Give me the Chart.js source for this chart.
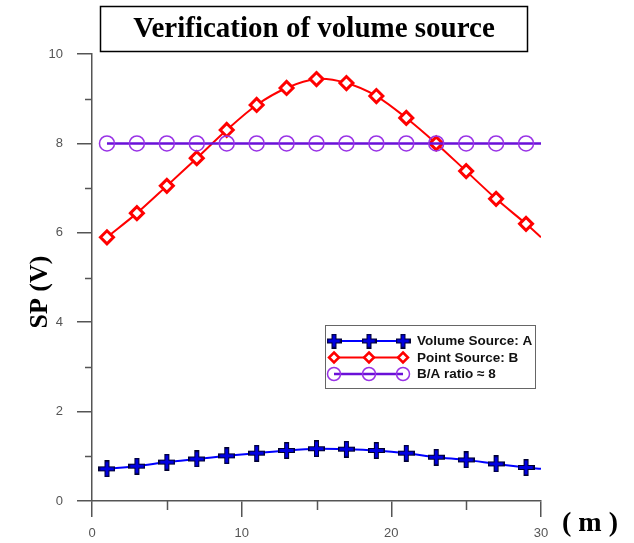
<!DOCTYPE html>
<html>
<head>
<meta charset="utf-8">
<script src="https://cdn.jsdelivr.net/npm/chart.js@4/dist/chart.umd.min.js"></script>
<style>
  body { margin: 0; background: #fff; }
  #wrap { width: 634px; height: 543px; position: relative; }
</style>
</head>
<body>
<div id="wrap"><canvas id="spChart"></canvas></div>
<script>
// distance along the profile (m); the last one only continues the curve
const positions = [1, 3, 5, 7, 9, 11, 13, 15, 17, 19, 21, 23, 25, 27, 29, 30];
const volumeA = [0.72, 0.78, 0.87, 0.94, 1.01, 1.07, 1.13, 1.17, 1.16, 1.13, 1.07, 0.98, 0.92, 0.83, 0.75, 0.72];
const pointB = [5.9, 6.44, 7.05, 7.67, 8.3, 8.86, 9.24, 9.44, 9.35, 9.06, 8.57, 8.0, 7.38, 6.76, 6.2, 5.9];
const ratioBA = [8, 8, 8, 8, 8, 8, 8, 8, 8, 8, 8, 8, 8, 8, 8, 8];
const legendLabels = ["Volume Source: A", "Point Source: B", "B/A ratio \u2248 8"];
const yMinorTicks = [1, 3, 5, 7, 9];
const xMinorTicks = [5, 15, 25];

const AXIS = "#555";

// "+" marker: blue bars with a dark outline
function makeCross(size, thick) {
  const c = document.createElement("canvas");
  c.width = size; c.height = size;
  const g = c.getContext("2d");
  const m = size / 2;
  g.lineCap = "square";
  g.strokeStyle = "#000030";
  g.lineWidth = thick + 2;
  g.beginPath();
  g.moveTo(m, 2); g.lineTo(m, size - 2);
  g.moveTo(2, m); g.lineTo(size - 2, m);
  g.stroke();
  g.strokeStyle = "#0000e0";
  g.lineWidth = thick;
  g.beginPath();
  g.moveTo(m, 3); g.lineTo(m, size - 3);
  g.moveTo(3, m); g.lineTo(size - 3, m);
  g.stroke();
  return c;
}
const crossBig = makeCross(17, 3);
const crossSmall = makeCross(15, 3);

function toPoints(ys) {
  return positions.map((x, i) => ({ x: x, y: ys[i] }));
}
// no marker on the end point at x=30
const radii = positions.map(x => (x === 30 ? 0 : 1));

// extra drawing: minor ticks, title box, axis titles, legend
const decorations = {
  id: "decorations",
  afterDraw(chart) {
    const ctx = chart.ctx;
    const xs = chart.scales.x, ys = chart.scales.y;
    const left = chart.chartArea.left, bottom = chart.chartArea.bottom;

    ctx.save();
    ctx.strokeStyle = AXIS;
    ctx.lineWidth = 1.5;
    ctx.beginPath();
    yMinorTicks.forEach(v => {
      const py = Math.round(ys.getPixelForValue(v)) + 0.5;
      ctx.moveTo(left - 7, py); ctx.lineTo(left, py);
    });
    xMinorTicks.forEach(v => {
      const px = Math.round(xs.getPixelForValue(v)) + 0.5;
      ctx.moveTo(px, bottom); ctx.lineTo(px, bottom + 9);
    });
    ctx.stroke();

    // title box
    ctx.fillStyle = "#fff";
    ctx.fillRect(100, 6, 427, 45);
    ctx.strokeStyle = "#000";
    ctx.lineWidth = 1.5;
    ctx.strokeRect(100.5, 6.5, 427, 45);
    ctx.fillStyle = "#000";
    ctx.font = "bold 29px 'Liberation Serif'";
    ctx.textAlign = "center";
    ctx.textBaseline = "middle";
    ctx.fillText("Verification of volume source", 314, 30);

    // axis titles
    ctx.font = "bold 26px 'Liberation Serif'";
    ctx.save();
    ctx.translate(40, 292);
    ctx.rotate(-Math.PI / 2);
    ctx.fillText("SP (V)", 0, 0);
    ctx.restore();
    ctx.font = "bold 28px 'Liberation Serif'";
    ctx.textAlign = "left";
    ctx.fillText("( m )", 562, 524);

    // legend
    const bx = 325, by = 325, bw = 210, bh = 63;
    ctx.fillStyle = "#fff";
    ctx.fillRect(bx, by, bw, bh);
    ctx.strokeStyle = "#666";
    ctx.lineWidth = 1;
    ctx.strokeRect(bx + 0.5, by + 0.5, bw, bh);
    const rows = [
      { y: 341, color: "#0000ff", lw: 2 },
      { y: 357.5, color: "#ff0000", lw: 2 },
      { y: 374, color: "#6a10d8", lw: 2.5 }
    ];
    const mx = [334, 369, 403];
    rows.forEach((r, i) => {
      ctx.strokeStyle = r.color;
      ctx.lineWidth = r.lw;
      ctx.beginPath();
      ctx.moveTo(mx[0], r.y); ctx.lineTo(mx[2], r.y);
      ctx.stroke();
      mx.forEach(x => {
        if (i === 0) {
          ctx.drawImage(crossSmall, x - 7.5, r.y - 7.5);
        } else if (i === 1) {
          ctx.fillStyle = "#fff";
          ctx.strokeStyle = "#ff0000";
          ctx.lineWidth = 2.5;
          ctx.beginPath();
          ctx.moveTo(x, r.y - 5); ctx.lineTo(x + 5, r.y);
          ctx.lineTo(x, r.y + 5); ctx.lineTo(x - 5, r.y);
          ctx.closePath();
          ctx.fill(); ctx.stroke();
        } else {
          ctx.strokeStyle = "#9933e6";
          ctx.lineWidth = 1.5;
          ctx.beginPath();
          ctx.arc(x, r.y, 6.5, 0, Math.PI * 2);
          ctx.stroke();
        }
      });
      ctx.fillStyle = "#111";
      ctx.font = "bold 13.5px 'Liberation Sans'";
      ctx.textAlign = "left";
      ctx.textBaseline = "middle";
      ctx.fillText(legendLabels[i], 417, r.y + 0.5);
    });
    ctx.restore();
  }
};

new Chart(document.getElementById("spChart"), {
  type: "line",
  data: {
    datasets: [
      {
        label: legendLabels[2],
        data: toPoints(ratioBA),
        borderColor: "#6a10d8",
        borderWidth: 2.5,
        pointStyle: "circle",
        pointRadius: radii.map(r => r * 7.5),
        pointBorderColor: "#9933e6",
        pointBorderWidth: 1.5,
        pointBackgroundColor: "rgba(0,0,0,0)",
        tension: 0
      },
      {
        label: legendLabels[1],
        data: toPoints(pointB),
        borderColor: "#ff0000",
        borderWidth: 2,
        pointStyle: "rectRot",
        pointRadius: radii.map(r => r * 6.5),
        pointBorderColor: "#ff0000",
        pointBorderWidth: 3,
        pointBackgroundColor: "#fff",
        tension: 0.3
      },
      {
        label: legendLabels[0],
        data: toPoints(volumeA),
        borderColor: "#0000ff",
        borderWidth: 2,
        pointStyle: positions.map(x => (x === 30 ? false : crossBig)),
        pointRadius: radii.map(r => r * 8),
        tension: 0.3
      }
    ]
  },
  options: {
    responsive: true,
    maintainAspectRatio: false,
    animation: false,
    layout: { padding: { left: 0, right: 93, top: 54, bottom: 0 } },
    plugins: {
      legend: { display: false },
      tooltip: { enabled: false }
    },
    scales: {
      x: {
        type: "linear",
        min: 0,
        max: 30,
        ticks: { stepSize: 10, color: "#555", padding: 9, font: { family: "'Liberation Sans'", size: 13 } },
        grid: { drawOnChartArea: false, tickLength: 16, color: AXIS, lineWidth: 1.5 },
        border: { color: AXIS, width: 1.5 },
        afterFit: scale => { scale.height = 42; }
      },
      y: {
        min: 0,
        max: 10,
        ticks: { stepSize: 2, color: "#555", padding: 14, font: { family: "'Liberation Sans'", size: 13 } },
        grid: { drawOnChartArea: false, tickLength: 15, color: AXIS, lineWidth: 1.5 },
        border: { color: AXIS, width: 1.5 },
        afterFit: scale => { scale.width = 92; }
      }
    }
  },
  plugins: [decorations]
});
</script>
</body>
</html>
